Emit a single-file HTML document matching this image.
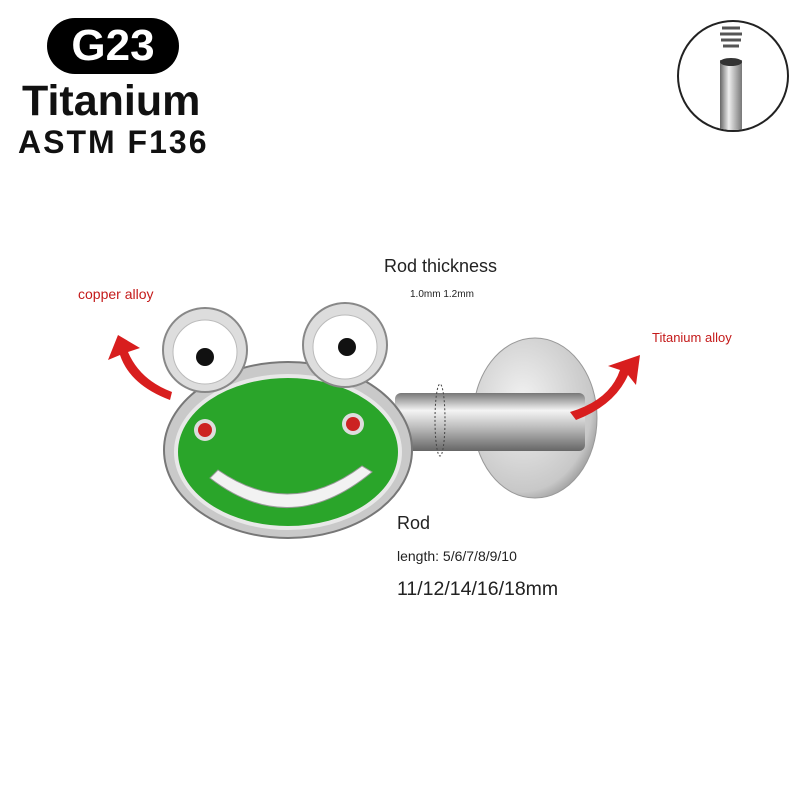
<!DOCTYPE html>
<html><head><style>
body{margin:0;background:#fff;}
.t{position:absolute;font-family:"Liberation Sans",sans-serif;white-space:nowrap;}
</style></head><body>
<div style="position:relative;width:800px;height:800px;overflow:hidden;">
<div style="position:absolute;left:47px;top:18px;width:132px;height:56px;border-radius:28px;background:#000;"></div>
<div class="t" style="left:47px;top:20px;width:132px;text-align:center;color:#fff;font-weight:bold;font-size:44px;line-height:52px;">G23</div>
<div class="t" style="left:22px;top:78px;font-weight:bold;font-size:43px;line-height:46px;color:#111;">Titanium</div>
<div class="t" style="left:18px;top:124px;font-weight:bold;font-size:32px;line-height:36px;color:#111;letter-spacing:2px;">ASTM F136</div>

<svg width="800" height="800" style="position:absolute;left:0;top:0">
<defs>
<linearGradient id="rod" x1="0" y1="0" x2="0" y2="1"><stop offset="0" stop-color="#777"/><stop offset=".3" stop-color="#f4f4f4"/><stop offset=".6" stop-color="#bbb"/><stop offset="1" stop-color="#666"/></linearGradient>
<radialGradient id="disc" cx=".4" cy=".4" r=".7"><stop offset="0" stop-color="#f2f2f2"/><stop offset=".8" stop-color="#c8c8c8"/><stop offset="1" stop-color="#888"/></radialGradient>
<linearGradient id="vrod" x1="0" y1="0" x2="1" y2="0"><stop offset="0" stop-color="#666"/><stop offset=".4" stop-color="#eee"/><stop offset="1" stop-color="#777"/></linearGradient>
<clipPath id="cc"><circle cx="733" cy="76" r="54"/></clipPath>
</defs>
<circle cx="733" cy="76" r="55" fill="#fff" stroke="#222" stroke-width="2"/>
<g clip-path="url(#cc)">
<rect x="720" y="60" width="22" height="72" fill="url(#vrod)"/>
<ellipse cx="731" cy="62" rx="11" ry="4" fill="#333"/>
<path d="M722 28 h18 M720 34 h22 M721 40 h20 M723 46 h16" stroke="#555" stroke-width="3"/>
</g>
<ellipse cx="535" cy="418" rx="62" ry="80" fill="url(#disc)" stroke="#999"/>
<rect x="395" y="393" width="190" height="58" rx="6" fill="url(#rod)"/>
<ellipse cx="440" cy="420" rx="5" ry="36" fill="none" stroke="#444" stroke-dasharray="2,2"/>
<ellipse cx="288" cy="450" rx="124" ry="88" fill="#c9c9c9" stroke="#777" stroke-width="2"/>
<ellipse cx="288" cy="452" rx="112" ry="76" fill="#2aa52a" stroke="#e8e8e8" stroke-width="4"/>
<circle cx="205" cy="350" r="42" fill="#ddd" stroke="#888" stroke-width="2"/>
<circle cx="205" cy="352" r="32" fill="#fff" stroke="#bbb"/>
<circle cx="205" cy="357" r="9" fill="#111"/>
<circle cx="345" cy="345" r="42" fill="#ddd" stroke="#888" stroke-width="2"/>
<circle cx="345" cy="347" r="32" fill="#fff" stroke="#bbb"/>
<circle cx="347" cy="347" r="9" fill="#111"/>
<circle cx="205" cy="430" r="11" fill="#ddd"/><circle cx="205" cy="430" r="7" fill="#c22"/>
<circle cx="353" cy="424" r="11" fill="#ddd"/><circle cx="353" cy="424" r="7" fill="#c22"/>
<path d="M210 478 Q290 540 372 472 L362 466 Q290 520 218 470 Z" fill="#f2f2f2" stroke="#999"/>
<path d="M170 400 Q130 385 120 355 L108 360 L118 335 L140 348 L128 352 Q140 380 172 392 Z" fill="#d81e1e"/>
<path d="M570 412 Q610 400 620 370 L608 366 L640 355 L636 385 L628 375 Q615 405 576 420 Z" fill="#d81e1e"/>
</svg>

<div class="t" style="left:384px;top:256px;font-size:18px;color:#222;">Rod thickness</div>
<div class="t" style="left:410px;top:289px;font-size:10px;color:#222;">1.0mm 1.2mm</div>
<div class="t" style="left:78px;top:286px;font-size:14px;color:#c41a1a;">copper alloy</div>
<div class="t" style="left:652px;top:330px;font-size:13px;color:#c41a1a;">Titanium alloy</div>
<div class="t" style="left:397px;top:513px;font-size:18px;color:#222;">Rod</div>
<div class="t" style="left:397px;top:548px;font-size:14px;color:#222;">length: 5/6/7/8/9/10</div>
<div class="t" style="left:397px;top:578px;font-size:19.5px;color:#222;">11/12/14/16/18mm</div>
</div>
</body></html>
